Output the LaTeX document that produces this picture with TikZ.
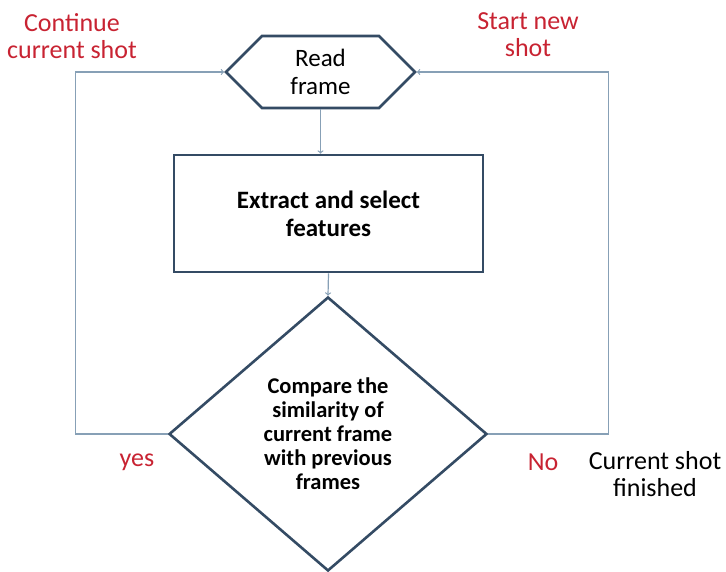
\documentclass[tikz,border=0pt]{standalone}
\usepackage{fontspec}
\setmainfont{Carlito}
\usetikzlibrary{shapes.geometric,shapes.symbols,positioning}
\definecolor{boxline}{RGB}{52,75,100}
\definecolor{flowline}{RGB}{135,160,182}
\definecolor{labelred}{RGB}{200,35,50}
\tikzset{
  stage/.style={draw=boxline,line width=2.6pt,fill=white,align=center,inner sep=0pt},
  flow/.style={->,draw=flowline,line width=1.2pt},
  note/.style={align=center,font=\fontsize{26}{27}\selectfont}
}
\begin{document}
\begin{tikzpicture}
  \useasboundingbox (0pt,0pt) rectangle (726pt,-572pt);

  \node[stage,signal,signal to=east and west,signal pointer angle=90,
    minimum width=189pt,minimum height=72pt,
    font=\fontsize{25}{28}\selectfont] (read) at (320.5pt,-72pt) {Read\\frame};
  \node[stage,rectangle,minimum width=309pt,minimum height=117pt,
    font=\bfseries\fontsize{25}{28}\selectfont] (extract) at (328.5pt,-213.5pt)
    {Extract and select\\features};
  \node[stage,diamond,minimum width=318pt,minimum height=274pt,
    font=\bfseries\fontsize{22.5}{24}\selectfont] (compare) at (328pt,-434pt)
    {Compare the\\similarity of\\current frame\\with previous\\frames};

  \draw[flow] (read.south) -- (read.south |- extract.north);
  \draw[flow] (extract.south) -- (compare.north);
  \draw[flow] (compare.west) -- ++(-92pt,0pt) |- (read.west);
  \draw[flow] (compare.east) -- ++(120pt,0pt) |- (read.east);

  \node[note,text=labelred] (continue) at (72pt,-36pt) {Continue\\current shot};
  \node[note,text=labelred] (startnew) at (528pt,-35pt) {Start new\\shot};
  \node[note,text=labelred] (yes) at (137pt,-462pt) {yes};
  \node[note,text=labelred] (no) at (543pt,-462pt) {No};
  \node[note] (finished) at (655pt,-474pt) {Current shot\\finished};

\end{tikzpicture}
\end{document}
